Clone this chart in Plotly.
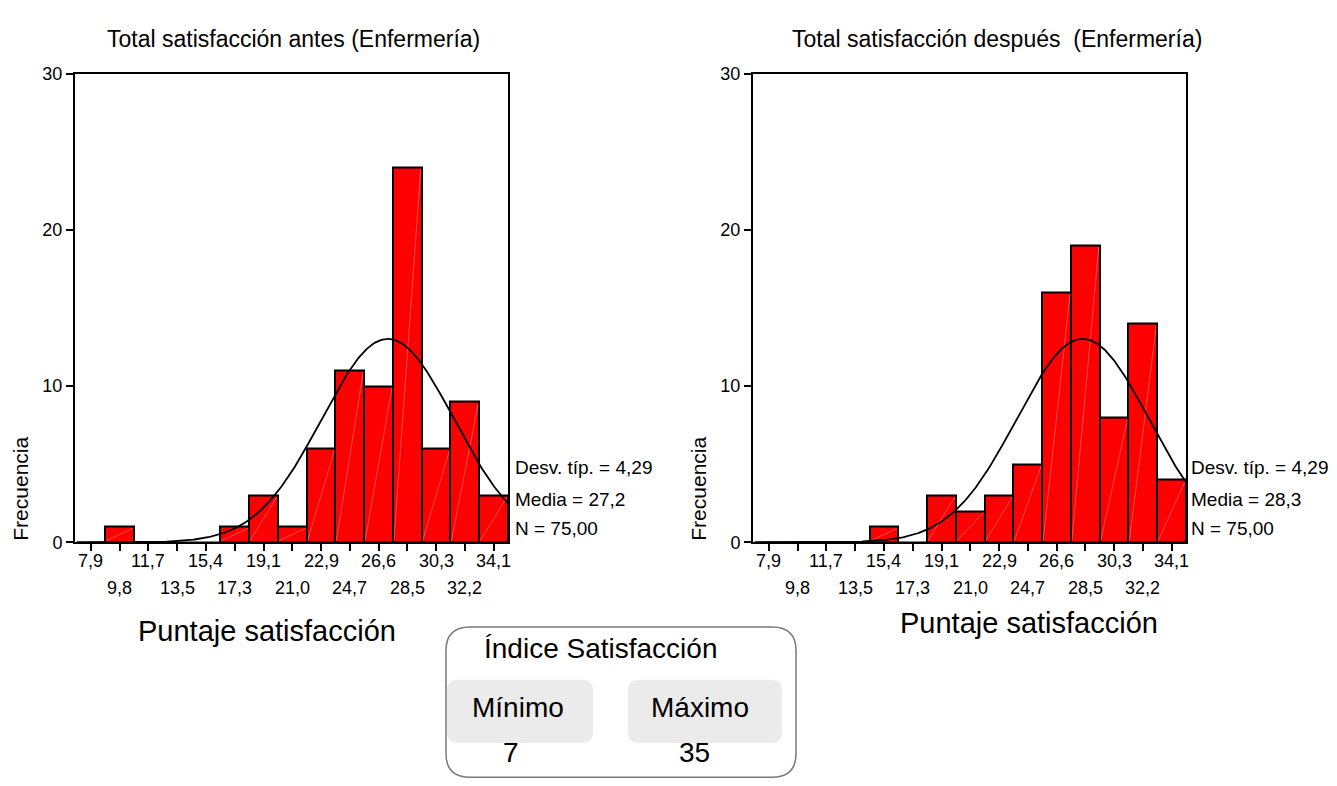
import numpy as np
import plotly.graph_objects as go

# ── Data ──────────────────────────────────────────────────────────────────────
tick_labels = ["7,9", "9,8", "11,7", "13,5", "15,4", "17,3", "19,1", "21,0",
               "22,9", "24,7", "26,6", "28,5", "30,3", "32,2", "34,1"]
score_min, score_max = 7, 35          # Índice Satisfacción: mínimo / máximo

counts_antes = [0, 1, 0, 0, 0, 1, 3, 1, 6, 11, 10, 24, 6, 9, 3]
counts_despues = [0, 0, 0, 0, 1, 0, 3, 2, 3, 5, 16, 19, 8, 14, 4]

sd_antes, mean_antes, n_antes = 4.29, 27.2, 75
sd_despues, mean_despues, n_despues = 4.29, 28.3, 75

titles = ["Total satisfacción antes (Enfermería)",
          "Total satisfacción después \u00a0(Enfermería)"]
stats_text = [["Desv. típ. = 4,29", "Media = 27,2", "N = 75,00"],
              ["Desv. típ. = 4,29", "Media = 28,3", "N = 75,00"]]

# ── Config ────────────────────────────────────────────────────────────────────
W, H = 1337, 786
OFF = 8            # the page body adds an 8px margin, positions below are screen px
FONT = "Liberation Sans, Arial, sans-serif"
n_bins = len(tick_labels)
bw = (score_max - score_min) / n_bins
centers = [score_min + bw * (i + 0.5) for i in range(n_bins)]


def py(p):
    # screen pixel row -> paper y
    return 1 - (p - OFF) / H


def px(p):
    return (p - OFF) / W


fig = go.Figure()

panels = [
    dict(counts=counts_antes, mean=mean_antes, sd=sd_antes, n=n_antes, xa="x", ya="y",
         x0=75, title_x=105, xt_x=267, xt_y=637, st_x=513),
    dict(counts=counts_despues, mean=mean_despues, sd=sd_despues, n=n_despues, xa="x2", ya="y2",
         x0=753, title_x=790, xt_x=1029, xt_y=629, st_x=1189),
]

annotations = []
for k, p in enumerate(panels):
    # bars
    fig.add_trace(go.Bar(
        x=centers, y=p["counts"], width=bw,
        marker=dict(color="#ff0000", line=dict(color="black", width=2)),
        xaxis=p["xa"], yaxis=p["ya"], showlegend=False,
    ))
    # faint diagonal seams SPSS leaves inside each filled bar
    sx, sy = [], []
    for c, v in zip(centers, p["counts"]):
        if v > 0:
            sx += [c - bw / 2 + 0.06, c + bw / 2 - 0.06, None]
            sy += [0.1, v - 0.1, None]
    fig.add_trace(go.Scatter(
        x=sx, y=sy, mode="lines", line=dict(color="rgba(255,215,215,0.5)", width=0.7),
        xaxis=p["xa"], yaxis=p["ya"], showlegend=False, hoverinfo="skip",
    ))
    # fitted normal curve
    xs = np.linspace(score_min, score_max, 400)
    ys = p["n"] * bw / (p["sd"] * np.sqrt(2 * np.pi)) * np.exp(-0.5 * ((xs - p["mean"]) / p["sd"]) ** 2)
    fig.add_trace(go.Scatter(
        x=xs, y=ys, mode="lines", line=dict(color="black", width=1.8),
        xaxis=p["xa"], yaxis=p["ya"], showlegend=False, hoverinfo="skip",
    ))

    # two-row tick labels
    for i, (c, lab) in enumerate(zip(centers, tick_labels)):
        annotations.append(dict(
            x=c, xref=p["xa"], y=py(565 if i % 2 == 0 else 593), yref="paper",
            text=lab, showarrow=False, xanchor="center", yanchor="middle",
            font=dict(size=18, color="black", family=FONT),
        ))

    # title
    annotations.append(dict(
        x=px(p["title_x"]), y=py(30), xref="paper", yref="paper", text=titles[k],
        showarrow=False, xanchor="left", yanchor="middle",
        font=dict(size=23, color="black", family=FONT),
    ))
    # x axis title
    annotations.append(dict(
        x=px(p["xt_x"]), y=py(p["xt_y"]), xref="paper", yref="paper",
        text="Puntaje satisfacción", showarrow=False, xanchor="center", yanchor="middle",
        font=dict(size=29, color="black", family=FONT),
    ))
    # y axis title
    annotations.append(dict(
        x=px(p["x0"] - 54), y=py(491), xref="paper", yref="paper",
        text="Frecuencia", textangle=-90, showarrow=False,
        xanchor="center", yanchor="middle",
        font=dict(size=21, color="black", family=FONT),
    ))
    # stats
    for t, yy in zip(stats_text[k], [469, 502, 532]):
        annotations.append(dict(
            x=px(p["st_x"]), y=py(yy), xref="paper", yref="paper", text=t,
            showarrow=False, xanchor="left", yanchor="middle",
            font=dict(size=19, color="black", family=FONT),
        ))


# ── Índice Satisfacción box ───────────────────────────────────────────────────
def rounded(x0, y0, x1, y1, r):
    X0, X1 = px(x0), px(x1)
    Y0, Y1 = py(y0), py(y1)
    rx, ry = r / W, r / H
    return (f"M {X0 + rx},{Y0} L {X1 - rx},{Y0} Q {X1},{Y0} {X1},{Y0 - ry} "
            f"L {X1},{Y1 + ry} Q {X1},{Y1} {X1 - rx},{Y1} L {X0 + rx},{Y1} "
            f"Q {X0},{Y1} {X0},{Y1 + ry} L {X0},{Y0 - ry} Q {X0},{Y0} {X0 + rx},{Y0} Z")


shapes = [
    dict(type="path", xref="paper", yref="paper", path=rounded(446, 633, 796, 787, 24),
         line=dict(color="#7a7a7a", width=1.5), fillcolor="white", layer="below"),
    dict(type="path", xref="paper", yref="paper", path=rounded(447, 687, 593, 752, 11),
         line=dict(width=0), fillcolor="#ebebeb", layer="below"),
    dict(type="path", xref="paper", yref="paper", path=rounded(628, 687, 782, 752, 11),
         line=dict(width=0), fillcolor="#ebebeb", layer="below"),
]

box_texts = [("Índice Satisfacción", 600, 655), ("Mínimo", 518, 716), ("Máximo", 700, 716),
             (str(score_min), 511, 762), (str(score_max), 694, 762)]
for t, xx, yy in box_texts:
    annotations.append(dict(
        x=px(xx), y=py(yy), xref="paper", yref="paper", text=t, showarrow=False,
        xanchor="center", yanchor="middle",
        font=dict(size=28, color="black", family=FONT),
    ))

# ── Axes ──────────────────────────────────────────────────────────────────────
ydom = [py(546), py(65)]
axis_common = dict(showline=True, mirror=True, linecolor="black", linewidth=2,
                   showgrid=False, zeroline=False, ticks="outside", tickcolor="black",
                   tickwidth=1.5)
yfont = dict(size=18, color="black", family=FONT)

fig.update_layout(
    width=W, height=H, autosize=False,
    margin=dict(l=0, r=0, t=0, b=0),
    paper_bgcolor="white", plot_bgcolor="white",
    bargap=0,
    xaxis=dict(domain=[px(75), px(508)], range=[6.9, 35], tickvals=centers,
               showticklabels=False, ticklen=7, **axis_common),
    xaxis2=dict(domain=[px(753), px(1186)], range=[6.9, 35], tickvals=centers,
                showticklabels=False, ticklen=7, anchor="y2", **axis_common),
    yaxis=dict(domain=ydom, range=[0, 30], tickvals=[0, 10, 20, 30], ticklen=7,
               tickfont=yfont, **axis_common),
    yaxis2=dict(domain=ydom, range=[0, 30], tickvals=[0, 10, 20, 30], ticklen=7,
                anchor="x2", tickfont=yfont, **axis_common),
    annotations=annotations,
    shapes=shapes,
    font=dict(family=FONT, color="black"),
)

fig.write_html("out.html")
